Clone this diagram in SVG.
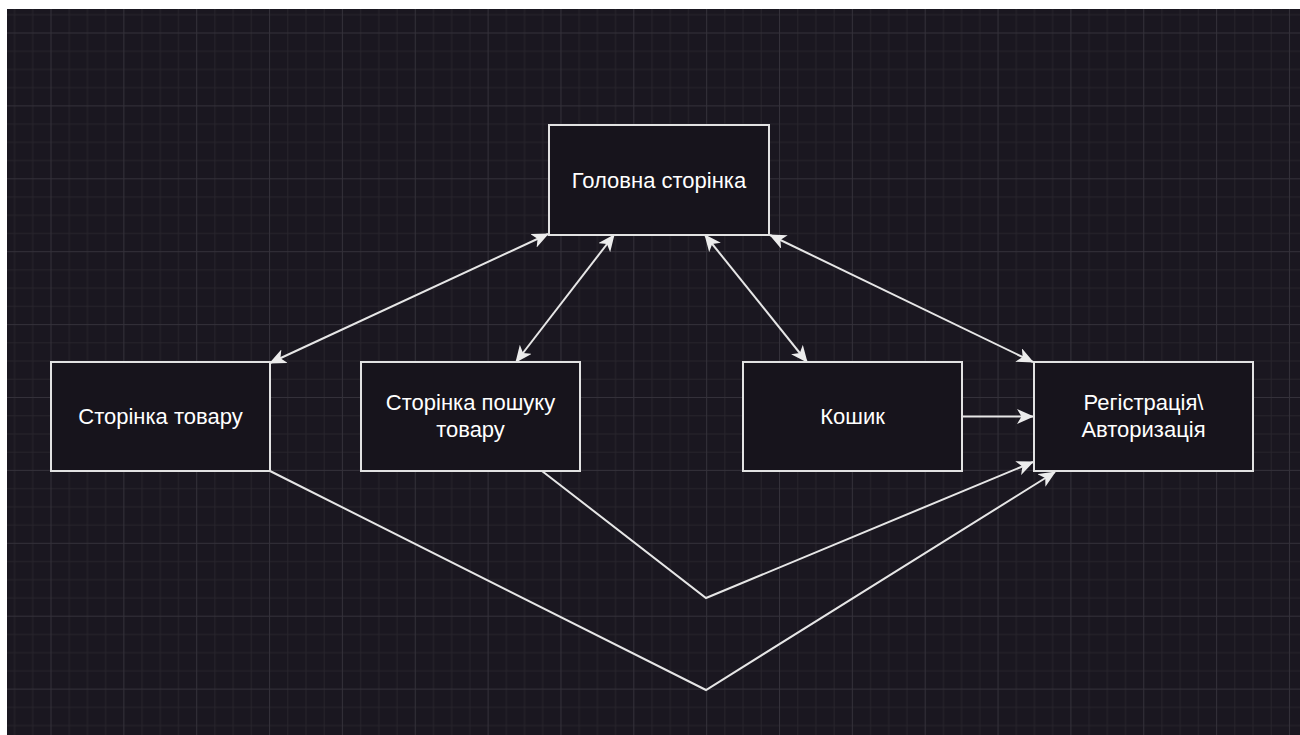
<svg xmlns="http://www.w3.org/2000/svg" width="1300" height="735" viewBox="0 0 1300 735">
<style>
.node rect{fill:#17141c;stroke:#e2e2e2;stroke-width:2}
.node text{font-family:"Liberation Sans",Arial,sans-serif;font-size:22px;fill:#ffffff;text-anchor:middle}
.edge{fill:none;stroke:#e6e6e6;stroke-width:2}
</style>
<defs>
<pattern id="grid" patternUnits="userSpaceOnUse" x="50.5" y="32.5" width="72.85" height="72.9">
<rect x="0" y="0" width="72.85" height="72.9" fill="#1a1720"/>
<g fill="#27242c">
<rect x="18.21" y="0" width="1" height="72.9"/>
<rect x="36.42" y="0" width="1" height="72.9"/>
<rect x="54.64" y="0" width="1" height="72.9"/>
<rect x="0" y="18.22" width="72.85" height="1"/>
<rect x="0" y="36.45" width="72.85" height="1"/>
<rect x="0" y="54.67" width="72.85" height="1"/>
</g>
<g fill="#34313a">
<rect x="0" y="0" width="1" height="72.9"/>
<rect x="0" y="0" width="72.85" height="1"/>
</g>
</pattern>
<marker id="arr" viewBox="0 0 17 15" markerWidth="17" markerHeight="15" refX="16" refY="7.5" orient="auto-start-reverse" markerUnits="userSpaceOnUse">
<path d="M0,0 L17,7.5 L0,15 L4.5,7.5 Z" fill="#ececec"/>
</marker>
</defs>
<rect x="0" y="0" width="1300" height="735" fill="#ffffff"/>
<rect x="7" y="9" width="1293" height="726" fill="url(#grid)"/>
<g id="connectors">
<path class="edge" d="M270,363 L548,234" marker-start="url(#arr)" marker-end="url(#arr)"/>
<path class="edge" d="M516,362 L614,235" marker-start="url(#arr)" marker-end="url(#arr)"/>
<path class="edge" d="M705,235 L807,362" marker-start="url(#arr)" marker-end="url(#arr)"/>
<path class="edge" d="M770,235 L1033,362" marker-start="url(#arr)" marker-end="url(#arr)"/>
<path class="edge" d="M962,416.5 L1033,416.5" marker-end="url(#arr)"/>
<path class="edge" d="M542,471 L706,598 L1033,462" marker-end="url(#arr)"/>
<path class="edge" d="M270,471 L706,690 L1055,472" marker-end="url(#arr)"/>
</g>
<g id="node-main" class="node">
<rect x="549" y="125" width="220" height="110"/>
<text x="659" y="187.5">Головна сторінка</text>
</g>
<g id="node-product" class="node">
<rect x="51" y="362" width="219" height="109"/>
<text x="160.5" y="424">Сторінка товару</text>
</g>
<g id="node-search" class="node">
<rect x="361" y="362" width="219" height="109"/>
<text x="470.5" y="410">Сторінка пошуку</text>
<text x="470.5" y="437">товару</text>
</g>
<g id="node-cart" class="node">
<rect x="743" y="362" width="219" height="109"/>
<text x="852.5" y="424">Кошик</text>
</g>
<g id="node-auth" class="node">
<rect x="1034" y="362" width="219" height="109"/>
<text x="1143.5" y="410">Регістрація\</text>
<text x="1143.5" y="437">Авторизація</text>
</g>
</svg>
